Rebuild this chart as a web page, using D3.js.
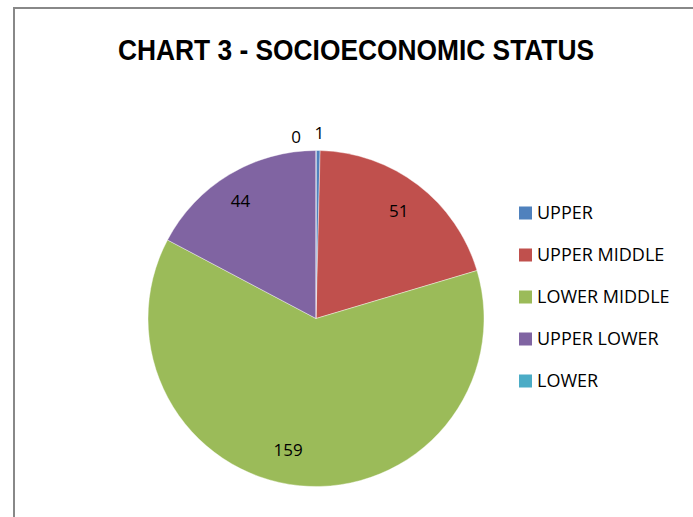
<!DOCTYPE html>
<html><head><meta charset="utf-8">
<script src="https://cdn.jsdelivr.net/npm/d3@7"></script>
<style>body{margin:0;background:#fff}svg{display:block}</style>
</head><body>
<script>
const categories = ["UPPER", "UPPER MIDDLE", "LOWER MIDDLE", "UPPER LOWER", "LOWER"];
const values = [1, 51, 159, 44, 0];
const colors = ["#4F81BD", "#C0504D", "#9BBB59", "#8064A2", "#4BACC6"];
const title = "CHART 3 - SOCIOECONOMIC STATUS";

const W = 693, H = 517;
const svg = d3.select("body").append("svg").attr("width", W).attr("height", H);

// frame
svg.append("path").attr("d", `M14,${H} L14,8 L${W},8`)
  .attr("fill", "none").attr("stroke", "#888").attr("stroke-width", 2);

svg.append("text").attr("x", 356).attr("y", 60).attr("text-anchor", "middle")
  .attr("font-family", "Liberation Sans, Arial, sans-serif").attr("font-weight", "bold")
  .attr("font-size", 29).attr("textLength", 476).attr("lengthAdjust", "spacingAndGlyphs")
  .attr("fill", "#000").text(title);

const cx = 316, cy = 318.5, r = 168;
const pie = d3.pie().sort(null).value(d => d)(values);
const arc = d3.arc().innerRadius(0).outerRadius(r);
const g = svg.append("g").attr("transform", `translate(${cx},${cy})`);
g.selectAll("path").data(pie).join("path")
  .attr("d", arc).attr("fill", (d, i) => colors[i])
  .attr("stroke", "#fff").attr("stroke-width", 0.4);

// labels (best-fit style placement)
const fontF = "Open Sans, Liberation Sans, sans-serif";
const angleNudge = [0, 0, 0.11, -0.03, 0];
const radFactor = [0, 0.81, 0.80, 0.83, 0];
pie.forEach((d, i) => {
  let x, y;
  const a = (d.startAngle + d.endAngle) / 2 + angleNudge[i];
  if (values[i] / d3.sum(values) < 0.03) {
    x = Math.sin(a) * (r + 18) + (values[i] === 0 ? -20 : 1);
    y = -Math.cos(a) * (r + 18) + (values[i] === 0 ? 4 : 0);
  } else {
    x = Math.sin(a) * r * radFactor[i];
    y = -Math.cos(a) * r * radFactor[i];
  }
  g.append("text").attr("x", x).attr("y", y).attr("dy", "0.36em")
    .attr("text-anchor", "middle").attr("font-family", fontF).attr("font-size", 17)
    .attr("fill", "#000").text(values[i]);
});

// legend
const leg = svg.append("g");
categories.forEach((c, i) => {
  const y = 213 + i * 42;
  leg.append("rect").attr("x", 519).attr("y", y - 6.5).attr("width", 13).attr("height", 13).attr("fill", colors[i]);
  leg.append("text").attr("x", 537).attr("y", y).attr("dy", "0.36em")
    .attr("font-family", fontF).attr("font-size", 18).attr("fill", "#000").text(c);
});
</script>
</body></html>
